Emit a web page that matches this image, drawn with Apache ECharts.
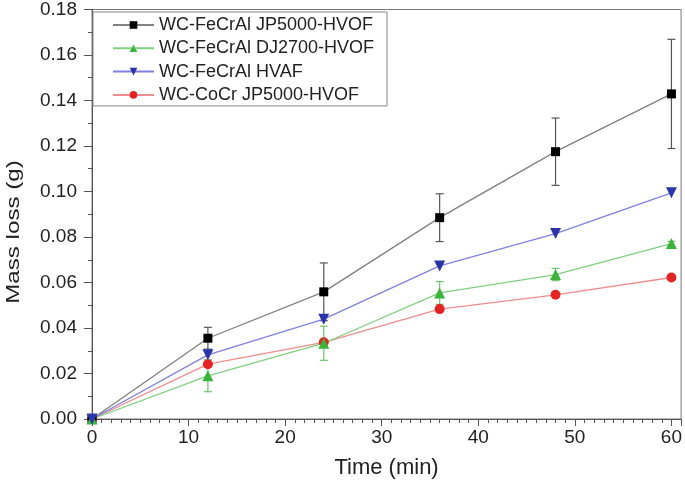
<!DOCTYPE html>
<html>
<head>
<meta charset="utf-8">
<script src="https://cdn.jsdelivr.net/npm/echarts@6/dist/echarts.min.js"></script>
<style>html,body{margin:0;padding:0;background:#fff;}#chart{width:685px;height:486px;}</style>
</head>
<body>
<div id="chart"></div>
<script>
var times = [0, 12, 24, 36, 48, 60];
var seriesNames = ['WC-FeCrAl JP5000-HVOF', 'WC-FeCrAl DJ2700-HVOF', 'WC-FeCrAl HVAF', 'WC-CoCr JP5000-HVOF'];
var jp5000FeCrAl = [0, 0.0355, 0.0559, 0.0885, 0.1175, 0.1429];
var dj2700FeCrAl = [0, 0.0190, 0.0333, 0.0554, 0.0635, 0.0771];
var hvafFeCrAl   = [0, 0.0282, 0.0439, 0.0673, 0.0815, 0.0994];
var jp5000CoCr   = [0, 0.0241, 0.0337, 0.0483, 0.0546, 0.0622];
var errJp5000FeCrAl = [0, 0.0048, 0.0127, 0.0105, 0.0148, 0.0240];
var errDj2700FeCrAl = [0, 0.0070, 0.0075, 0.0050, 0.0027, 0.0010];
var yTicks = [0, 0.02, 0.04, 0.06, 0.08, 0.10, 0.12, 0.14, 0.16, 0.18];
var xTicks = [0, 10, 20, 30, 40, 50, 60];

function pairs(vals) { return times.map(function (t, i) { return [t, vals[i]]; }); }
function errPairs(vals, errs) { return times.map(function (t, i) { return [t, vals[i] - errs[i], vals[i] + errs[i]]; }); }

function errorSeries(name, vals, errs, color) {
  return {
    type: 'custom', name: name, z: 1, silent: true,
    data: errPairs(vals, errs),
    renderItem: function (params, api) {
      var lo = api.coord([api.value(0), api.value(1)]);
      var hi = api.coord([api.value(0), api.value(2)]);
      var w = 4;
      var st = { stroke: color, lineWidth: 1.2 };
      return { type: 'group', children: [
        { type: 'line', shape: { x1: lo[0], y1: lo[1], x2: hi[0], y2: hi[1] }, style: st },
        { type: 'line', shape: { x1: lo[0] - w, y1: lo[1], x2: lo[0] + w, y2: lo[1] }, style: st },
        { type: 'line', shape: { x1: hi[0] - w, y1: hi[1], x2: hi[0] + w, y2: hi[1] }, style: st }
      ]};
    }
  };
}

var font = 'Liberation Sans, Arial, sans-serif';
var chart = echarts.init(document.getElementById('chart'), null, { renderer: 'canvas' });
chart.setOption({
  animation: false,
  backgroundColor: '#fff',
  grid: { left: 92, right: 3, top: 8, bottom: 67, show: true, borderColor: '#777', borderWidth: 1, backgroundColor: 'transparent' },
  legend: {
    data: seriesNames, orient: 'vertical', left: 93, top: 12,
    borderColor: '#888', borderWidth: 1, padding: [4, 13, 2, 19],
    itemWidth: 41, itemHeight: 9.5, itemGap: 5.3,
    textStyle: { fontFamily: font, fontSize: 18, color: '#222', lineHeight: 18 }
  },
  xAxis: [{
    type: 'value', min: 0, max: 61, interval: 10,
    axisLine: { show: true, lineStyle: { color: '#555', width: 1 } },
    axisTick: { show: true, length: 7, lineStyle: { color: '#555' } },
    splitLine: { show: false },
    axisLabel: { margin: 9, fontFamily: font, fontSize: 19, color: '#222',
      formatter: function (v) { return xTicks.indexOf(v) >= 0 ? String(v) : ''; } },
    name: 'Time (min)', nameLocation: 'middle', nameGap: 38,
    nameTextStyle: { fontFamily: font, fontSize: 22, color: '#222' }
  }, {
    type: 'value', min: 0, max: 61, interval: 1, position: 'bottom',
    axisLine: { show: false }, splitLine: { show: false },
    axisTick: { show: true, length: 4, lineStyle: { color: '#555' } },
    axisLabel: { show: false }
  }],
  yAxis: {
    type: 'value', min: 0, max: 0.18, interval: 0.02,
    axisLine: { show: true, lineStyle: { color: '#555', width: 1 } },
    axisTick: { show: true, length: 8, lineStyle: { color: '#555' } },
    minorTick: { show: true, splitNumber: 2, length: 4, lineStyle: { color: '#555' } },
    splitLine: { show: false },
    axisLabel: { margin: 15, fontFamily: font, fontSize: 19, color: '#222',
      formatter: function (v) { return v.toFixed(2); } }
  },
  graphic: [{
    type: 'text', x: 14, y: 232, rotation: Math.PI / 2, scaleX: 1.27,
    style: { text: 'Mass loss (g)', fontFamily: font, fontSize: 19, fill: '#222', align: 'center', verticalAlign: 'middle' }
  }],
  series: [
    errorSeries('err1', jp5000FeCrAl, errJp5000FeCrAl, '#555'),
    errorSeries('err2', dj2700FeCrAl, errDj2700FeCrAl, '#6cc46c'),
    { type: 'line', name: seriesNames[3], data: pairs(jp5000CoCr), z: 2,
      lineStyle: { color: '#f08c8c', width: 1.3 }, symbol: 'circle', symbolSize: 10,
      itemStyle: { color: '#e42424' } },
    { type: 'line', name: seriesNames[0], data: pairs(jp5000FeCrAl), z: 2,
      lineStyle: { color: '#808080', width: 1.3 }, symbol: 'rect', symbolSize: 9,
      itemStyle: { color: '#000' } },
    { type: 'line', name: seriesNames[1], data: pairs(dj2700FeCrAl), z: 2,
      lineStyle: { color: '#80d080', width: 1.3 }, symbol: 'triangle', symbolSize: 11,
      itemStyle: { color: '#3cb43c' } },
    { type: 'line', name: seriesNames[2], data: pairs(hvafFeCrAl), z: 2,
      lineStyle: { color: '#8080e0', width: 1.3 }, symbol: 'triangle', symbolRotate: 180, symbolSize: 11,
      itemStyle: { color: '#2a36a8' } }
  ]
});
</script>
</body>
</html>
